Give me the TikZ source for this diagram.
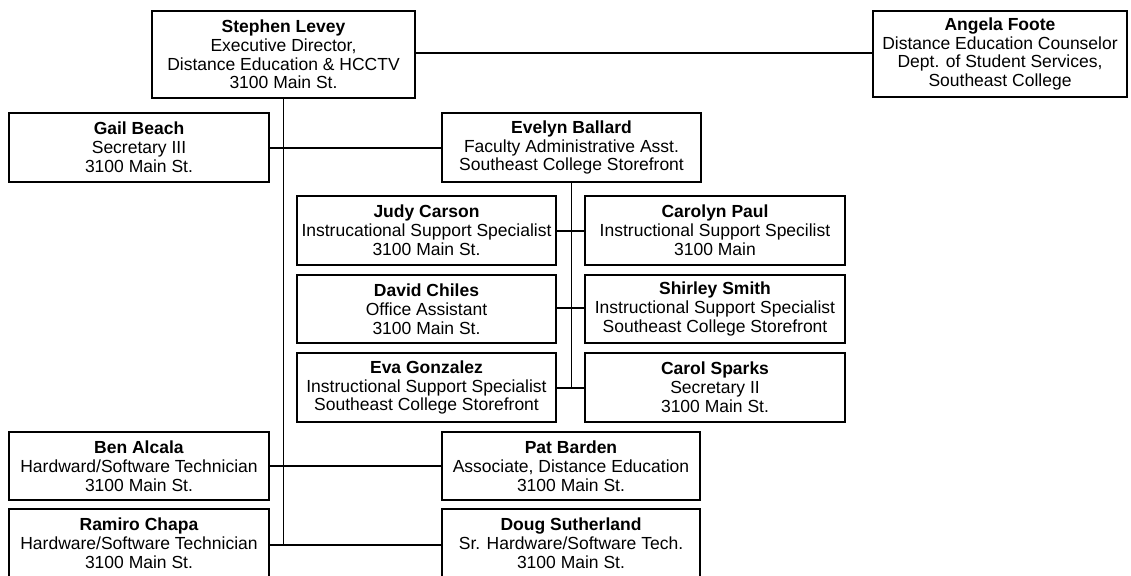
\documentclass[tikz,border=0pt]{standalone}
\usepackage{fontspec}
\setmainfont{Liberation Sans}
\tikzset{
  px/.style={x=1pt,y=-1pt},
  orgbox/.style={draw=black, line width=1.3pt, align=center, inner sep=0pt,
    font=\fontsize{17.5}{18.8}\selectfont, minimum width=259pt, minimum height=69pt},
  link/.style={draw=black, line width=1.2pt}
}
\newcommand{\nm}[1]{\textbf{#1}}
\begin{document}
\begin{tikzpicture}[px]
\clip (0,0) rectangle (1131,575);
\fill[white] (0,0) rectangle (1131,575);
% top
\node[orgbox, minimum width=263pt, minimum height=87pt] (levey) at (283.5,54.5)
  {\nm{Stephen Levey}\\Executive Director,\\Distance Education \& HCCTV\\3100 Main St.};
\node[orgbox, minimum width=254pt, minimum height=86pt] (foote) at (1000,54)
  {\nm{Angela Foote}\\Distance Education Counselor\\Dept. of Student Services,\\Southeast College};
% second row
\node[orgbox, minimum width=260pt] (beach) at (139,147.5)
  {\nm{Gail Beach}\\Secretary III\\3100 Main St.};
\node[orgbox] (ballard) at (571.5,147.5)
  {\nm{Evelyn Ballard}\\Faculty Administrative Asst.\\Southeast College Storefront};
% staff under Ballard
\node[orgbox] (carson) at (426.5,230.5)
  {\nm{Judy Carson}\\Instrucational Support Specialist\\3100 Main St.};
\node[orgbox, minimum width=260pt] (paul) at (715,230.5)
  {\nm{Carolyn Paul}\\Instructional Support Specilist\\3100 Main};
\node[orgbox, minimum height=68pt] (chiles) at (426.5,309)
  {\nm{David Chiles}\\Office Assistant\\3100 Main St.};
\node[orgbox, minimum width=260pt, minimum height=68pt] (smith) at (715,309)
  {\nm{Shirley Smith}\\Instructional Support Specialist\\Southeast College Storefront};
\node[orgbox] (gonzalez) at (426.5,387.5)
  {\nm{Eva Gonzalez}\\Instructional Support Specialist\\Southeast College Storefront};
\node[orgbox, minimum width=260pt] (sparks) at (715,387.5)
  {\nm{Carol Sparks}\\Secretary II\\3100 Main St.};
% bottom rows
\node[orgbox, minimum width=260pt, minimum height=68pt] (alcala) at (139,466)
  {\nm{Ben Alcala}\\Hardward/Software Technician\\3100 Main St.};
\node[orgbox, minimum width=258pt, minimum height=68pt] (barden) at (571,466)
  {\nm{Pat Barden}\\Associate, Distance Education\\3100 Main St.};
\node[orgbox, minimum width=260pt] (chapa) at (139,543.5)
  {\nm{Ramiro Chapa}\\Hardware/Software Technician\\3100 Main St.};
\node[orgbox, minimum width=258pt] (sutherland) at (571,543.5)
  {\nm{Doug Sutherland}\\Sr. Hardware/Software Tech.\\3100 Main St.};
% connectors
\coordinate (trunkend) at (levey.south |- 0,545);
\path[link] (levey.east |- 0,53) -- (foote.west |- 0,53);
\path[link] (levey.south) -- (trunkend);
\path[link] (beach.east |- 0,148) -- (ballard.west |- 0,148);
\coordinate (ballend) at (ballard.south |- 0,388);
\path[link] (ballard.south) -- (ballend);
\path[link] (carson.east |- 0,231) -- (paul.west |- 0,231);
\path[link] (chiles.east |- 0,308) -- (smith.west |- 0,308);
\path[link] (gonzalez.east |- 0,388) -- (sparks.west |- 0,388);
\path[link] (alcala.east |- 0,466) -- (barden.west |- 0,466);
\path[link] (chapa.east |- 0,545) -- (sutherland.west |- 0,545);
\end{tikzpicture}
\end{document}
